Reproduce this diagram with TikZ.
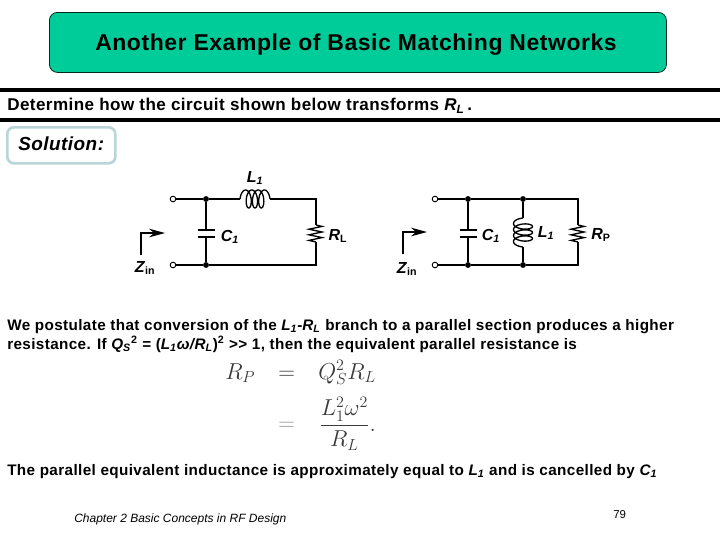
\documentclass[tikz,border=0pt]{standalone}
\usepackage{fontspec}
\setmainfont{Liberation Sans}
\newfontfamily\spaced{Liberation Sans}[LetterSpace=2.5]
\usetikzlibrary{arrows.meta}
\definecolor{hdr}{HTML}{00CC99}
\definecolor{solb}{HTML}{B8D6D8}
\definecolor{eqc}{HTML}{3A3A3A}
\tikzset{
  x=0.75pt,y=-0.75pt,
  txt/.style={inner sep=0pt,anchor=base west,text=black},
  para/.style={txt,font=\spaced\bfseries\fontsize{11.45}{14}\selectfont},
  eqn/.style={inner sep=0pt,anchor=base west,text=eqc,font=\fontsize{17.5}{20}\selectfont},
  wire/.style={line width=1.4pt,black},
  thinw/.style={line width=1pt,black},
  term/.style={circle,draw=black,fill=white,line width=0.7pt,inner sep=0pt,minimum size=4.2pt},
  junc/.style={circle,fill=black,inner sep=0pt,minimum size=4.4pt},
  lab/.style={inner sep=0pt,font=\bfseries\fontsize{12}{14}\selectfont},
  labi/.style={inner sep=0pt,font=\bfseries\itshape\fontsize{12}{14}\selectfont},
  plate/.style={line width=1.9pt,black},
}
\begin{document}
\begin{tikzpicture}
\useasboundingbox (0,0) rectangle (720,540);
\fill[white] (0,0) rectangle (720,540);
% header
\node[draw=black!80!hdr,line width=0.6pt,fill=hdr,rounded corners=6pt,minimum width=617*0.75pt,minimum height=60*0.75pt,anchor=north west,inner sep=0pt] (hd) at (49,12) {};
\node[txt,font=\spaced\bfseries\fontsize{17.2}{18}\selectfont] (title) at (95,50) {Another Example of Basic Matching Networks};
% rules
\coordinate (r1a) at (0,90); \coordinate (r1b) at (720,90);
\coordinate (r2a) at (0,120); \coordinate (r2b) at (720,120);
\draw[line width=3pt] (r1a)--(r1b);
\draw[line width=3pt] (r2a)--(r2b);
\node[txt,font=\spaced\bfseries\fontsize{12.8}{14}\selectfont] (q) at (7,110.5) {Determine how the circuit shown below transforms \textit{R\textsubscript{L}}\,.};
% solution
\node[draw=solb,line width=2pt,rounded corners=5pt,fill=white,minimum width=108*0.75pt,minimum height=36*0.75pt,anchor=north west,inner sep=0pt] (sb) at (6,126) {};
\node[txt,font=\spaced\bfseries\itshape\fontsize{14.2}{16}\selectfont] (sol) at (18,150) {Solution:};
% left circuit
\node[term] (t1) at (173,199) {};
\node[term] (t2) at (173,265) {};
\node[junc] (j1) at (206,199) {};
\node[junc] (j2) at (206,265) {};
\coordinate (la) at (240,199); \coordinate (lb) at (270,199);
\coordinate (tr) at (316,199); \coordinate (br) at (316,265);
\coordinate (ra) at (316,225); \coordinate (rb) at (316,242);
\coordinate (ca) at (206,230); \coordinate (cb) at (206,237);
\draw[wire] (t1)--(j1)--(la) (lb)--(tr)--(ra);
\draw[thinw,shift={(la)}] plot[domain=-90:1170,samples=140,smooth] ({4+(\x+90)/1260*22+4*sin(\x)},{-9*cos(\x)});
\draw[thinw] (ra) -- ++(6,1.4) -- ++(-13,2.8) -- ++(13,2.8) -- ++(-13,2.8) -- ++(13,2.8) -- ++(-13,2.8) -- (rb);
\draw[wire] (rb) -- (br) -- (j2) -- (t2) (j2)--(cb) (ca)--(j1);
\draw[plate] (198,230)--(215,230) (198,237)--(215,237);
\draw[line width=1.1pt] (141,255)--(141,233)--(150,233);
\draw[line width=1.1pt,-{Stealth[length=12pt,width=6.5pt]}] (148,233)--(165,233);
\node[labi] (l1) at (255,178) {L\textsubscript{1}};
\node[labi] (c1) at (230,237) {C\textsubscript{1}};
\node[lab] (rl) at (338,236) {\textit{R}\textsubscript{L}};
\node[lab] (z1) at (145,268) {\textit{Z}\textsubscript{in}};
% right circuit
\node[term] (t3) at (435,199) {};
\node[term] (t4) at (435,265) {};
\node[junc] (j3) at (468,199) {};
\node[junc] (j4) at (468,265) {};
\node[junc] (j5) at (523,199) {};
\node[junc] (j6) at (523,265) {};
\coordinate (tr2) at (578,199); \coordinate (br2) at (578,265);
\coordinate (ra2) at (578,225); \coordinate (rb2) at (578,242);
\coordinate (ia) at (523,218); \coordinate (ib) at (523,247);
\coordinate (ca2) at (468,230); \coordinate (cb2) at (468,237);
\draw[wire] (t3)--(j3)--(j5);
\draw[thinw] (j5)--(tr2)--(ra2);
\draw[thinw] (ra2) -- ++(6,1.4) -- ++(-13,2.8) -- ++(13,2.8) -- ++(-13,2.8) -- ++(13,2.8) -- ++(-13,2.8) -- (rb2);
\draw[wire] (rb2) -- (br2) -- (j6) -- (j4) -- (t4) (j4)--(cb2) (ca2)--(j3);
\draw[thinw] (j5)--(ia) (ib)--(j6);
\draw[thinw,shift={(ia)}] plot[domain=-90:1170,samples=140,smooth] ({-9.5*cos(\x)},{4+(\x+90)/1260*21+4*sin(\x)});
\draw[plate] (460,230)--(477,230) (460,237)--(477,237);
\draw[line width=1.1pt] (403,254)--(403,232)--(412,232);
\draw[line width=1.1pt,-{Stealth[length=12pt,width=6.5pt]}] (410,232)--(427,232);
\node[labi] (c2) at (491,236) {C\textsubscript{1}};
\node[labi] (l2) at (546,233) {L\textsubscript{1}};
\node[lab] (rp) at (601,235) {\textit{R}\textsubscript{P}};
\node[lab] (z2) at (407,269) {\textit{Z}\textsubscript{in}};
% text
\node[para] (p1) at (7,330) {We postulate that conversion of the \textit{L\textsubscript{1}}-\textit{R\textsubscript{L}} branch to a parallel section produces a higher};
\node[para] (p2) at (7,349) {resistance. If \textit{Q\textsubscript{S}}\textsuperscript{2} = (\textit{L\textsubscript{1}ω/R\textsubscript{L}})\textsuperscript{2} {>}{>} 1, then the equivalent parallel resistance is};
% equation
\node[eqn] (e1) at (225,379) {$R_P$};
\node[eqn] (e2) at (278,379) {$=$};
\node[eqn] (e3) at (318,379) {$Q_S^2R_L$};
\node[eqn,text=eqc!55] (e4) at (278,430) {$=$};
\node[eqn] (e5) at (319,431) {$\displaystyle\frac{L_1^2\omega^2}{R_L}.$};
\node[para] (p3) at (7,475) {The parallel equivalent inductance is approximately equal to \textit{L\textsubscript{1}} and is cancelled by \textit{C\textsubscript{1}}};
\node[txt,font=\itshape\fontsize{9}{10}\selectfont] (ft) at (74,522) {Chapter 2 Basic Concepts in RF Design};
\node[txt,font=\fontsize{8.6}{10}\selectfont] (pg) at (613,518) {79};
\end{tikzpicture}
\end{document}
